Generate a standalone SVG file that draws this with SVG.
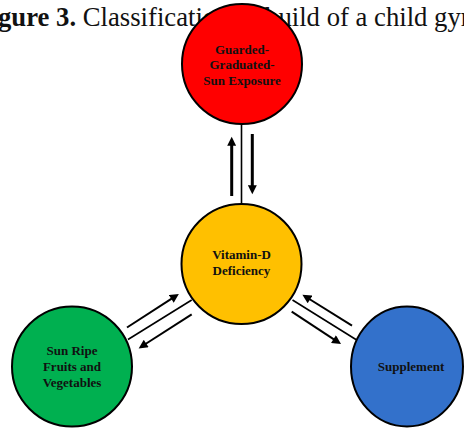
<svg xmlns="http://www.w3.org/2000/svg" width="464" height="428" viewBox="0 0 464 428">
<style>
.lbl{font-family:"Liberation Serif","Times New Roman",serif;font-weight:bold;font-size:13px;fill:#111;text-anchor:middle}
.node{stroke:#000;stroke-width:2}
.thin{stroke:#000;stroke-width:1.6;fill:none}
.arr{stroke:#000;fill:none}
</style>
<defs>
<marker id="ah" viewBox="0 0 10 10" markerWidth="10" markerHeight="9" refX="2" refY="5" orient="auto" markerUnits="userSpaceOnUse">
<path d="M0,0 L10,5 L0,10 z" fill="#000"/>
</marker>
</defs>
<text x="-2" y="26" font-family="Liberation Serif, Times New Roman, serif" font-size="26.7" fill="#111"><tspan font-weight="bold">gure 3.</tspan> Classification of build of a child gym</text>
<g id="connectors">
<line class="thin" x1="241.5" y1="124" x2="241.5" y2="204"/>
<line class="thin" x1="128" y1="339.5" x2="191.7" y2="300"/>
<line class="thin" x1="292.5" y1="300" x2="356.7" y2="340"/>
<line class="arr" stroke-width="3" x1="231.7" y1="196" x2="231.7" y2="144" marker-end="url(#ah)"/>
<line class="arr" stroke-width="3" x1="252.3" y1="134" x2="252.3" y2="187" marker-end="url(#ah)"/>
<line class="arr" stroke-width="2" x1="127" y1="327.5" x2="172.8" y2="297.9" marker-end="url(#ah)"/>
<line class="arr" stroke-width="2" x1="191.7" y1="314.3" x2="144.7" y2="344.5" marker-end="url(#ah)"/>
<line class="arr" stroke-width="2" x1="352" y1="325.7" x2="308.5" y2="298.5" marker-end="url(#ah)"/>
<line class="arr" stroke-width="2" x1="291.7" y1="311.7" x2="335" y2="340.1" marker-end="url(#ah)"/>
</g>
<g id="sun-exposure">
<circle class="node" cx="242" cy="64" r="60" fill="#FF0000"/>
<text class="lbl" x="242" y="53.5">Guarded-</text>
<text class="lbl" x="242" y="69">Graduated-</text>
<text class="lbl" x="242" y="84.5">Sun Exposure</text>
</g>
<g id="vitamin-d">
<circle class="node" cx="241.5" cy="264" r="60" fill="#FFC000"/>
<text class="lbl" x="241.5" y="259">Vitamin-D</text>
<text class="lbl" x="241.5" y="275">Deficiency</text>
</g>
<g id="fruits">
<circle class="node" cx="72" cy="366.5" r="60" fill="#00B050"/>
<text class="lbl" x="72" y="355">Sun Ripe</text>
<text class="lbl" x="72" y="371">Fruits and</text>
<text class="lbl" x="72" y="386.7">Vegetables</text>
</g>
<g id="supplement">
<ellipse class="node" cx="407" cy="366.5" rx="56" ry="60" fill="#3371CB"/>
<text class="lbl" x="411" y="371">Supplement</text>
</g>
</svg>
